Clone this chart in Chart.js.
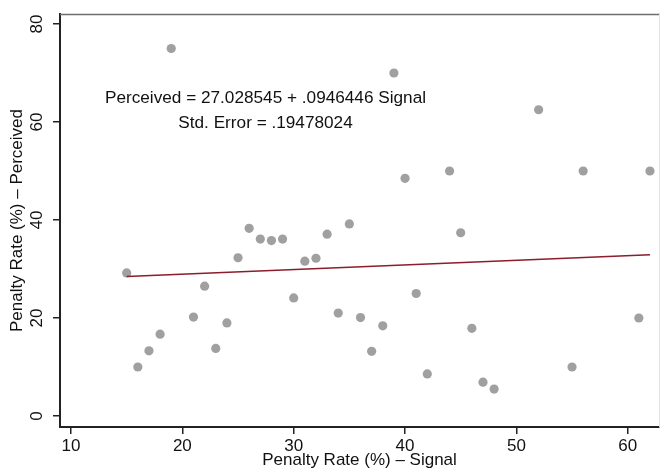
<!DOCTYPE html>
<html lang="en">
<head>
<meta charset="UTF-8">
<title>Penalty rate scatter</title>
<script src="https://cdn.jsdelivr.net/npm/chart.js@4.4.1/dist/chart.umd.min.js"></script>
<style>
  body { margin: 0; background: #fff; }
  canvas { display: block; }
</style>
</head>
<body>
<canvas id="chart" width="660" height="472"></canvas>
<script>
// penalty rate (%) - signal vs perceived
var signal = [15, 16, 17, 18, 19, 21, 22, 23, 24, 25, 26, 27, 28, 29, 30, 31, 32, 33, 34,
              35, 36, 37, 38, 39, 40, 41, 42, 44, 45, 46, 47, 48, 52, 55, 56, 61, 62];
var perceived = [29.2, 10, 13.3, 16.7, 75, 20.2, 26.5, 13.8, 19, 32.3, 38.3, 36.1, 35.8, 36.1, 24.1, 31.6, 32.2, 37.1, 21,
                 39.2, 20.1, 13.2, 18.4, 70, 48.5, 25, 8.6, 50, 37.4, 17.9, 6.9, 5.5, 62.5, 10, 50, 20, 50];

// fitted line end points
var fitX = [15, 62];
var fitY = [28.45, 32.9];

var xTicks = [10, 20, 30, 40, 50, 60];
var yTicks = [0, 20, 40, 60, 80];

var noteLines = ['Perceived = 27.028545 + .0946446 Signal', 'Std. Error = .19478024'];

var FONT = 'Liberation Sans, Arial, Helvetica, sans-serif';

var points = signal.map(function (s, i) { return {x: s, y: perceived[i]}; });
var fitPoints = fitX.map(function (s, i) { return {x: s, y: fitY[i]}; });

var frame = {
    id: 'frame',
    afterDraw: function (chart) {
        var ctx = chart.ctx, a = chart.chartArea;
        ctx.save();
        // top and right edges of the plot region
        ctx.strokeStyle = '#6e6e6e';
        ctx.lineWidth = 1.3;
        ctx.beginPath();
        ctx.moveTo(a.left, a.top + 0.5);
        ctx.lineTo(660, a.top + 0.5);
        ctx.stroke();
        ctx.strokeStyle = '#e2e2e2';
        ctx.lineWidth = 1;
        ctx.beginPath();
        ctx.moveTo(a.right + 0.5, a.top);
        ctx.lineTo(a.right + 0.5, a.bottom);
        ctx.stroke();

        // regression note
        ctx.fillStyle = '#111';
        ctx.font = '17.2px ' + FONT;
        ctx.textAlign = 'center';
        ctx.textBaseline = 'middle';
        ctx.fillText(noteLines[0], 265.5, 98);
        ctx.fillText(noteLines[1], 265.5, 123.5);
        ctx.restore();
    }
};

new Chart(document.getElementById('chart'), {
    type: 'scatter',
    data: {
        datasets: [{
            data: points,
            backgroundColor: '#a0a0a0',
            borderWidth: 0,
            pointRadius: 4.6,
            order: 2
        }, {
            data: fitPoints,
            showLine: true,
            borderColor: '#8b1d2c',
            borderWidth: 1.5,
            pointRadius: 0,
            order: 1
        }]
    },
    options: {
        responsive: false,
        animation: false,
        layout: { autoPadding: false, padding: { top: 14, right: 1, left: 0, bottom: 0 } },
        plugins: { legend: { display: false }, tooltip: { enabled: false } },
        scales: {
            x: {
                type: 'linear',
                min: 9.01,
                max: 62.81,
                afterBuildTicks: function (s) { s.ticks = xTicks.map(function (v) { return {value: v}; }); },
                afterFit: function (s) { s.height = 45; s.paddingLeft = 0; s.paddingRight = 0; },
                border: { color: '#222', width: 2 },
                grid: { drawOnChartArea: false, drawTicks: true, tickLength: 7, tickColor: '#222', lineWidth: 1.5 },
                ticks: { color: '#111', padding: 2, font: { family: FONT, size: 17 }, maxRotation: 0 },
                title: {
                    display: true,
                    text: 'Penalty Rate (%) – Signal',
                    color: '#111',
                    font: { family: FONT, size: 17 },
                    padding: { top: 0, bottom: 1 }
                }
            },
            y: {
                type: 'linear',
                min: -2.24,
                max: 82.04,
                afterBuildTicks: function (s) { s.ticks = yTicks.map(function (v) { return {value: v}; }); },
                afterFit: function (s) { s.width = 60; s.paddingTop = 0; s.paddingBottom = 0; },
                border: { color: '#222', width: 2 },
                grid: { drawOnChartArea: false, drawTicks: true, tickLength: 7, tickColor: '#222', lineWidth: 1.5 },
                ticks: {
                    color: '#111',
                    padding: 6,
                    minRotation: 90,
                    maxRotation: 90,
                    crossAlign: 'center',
                    font: { family: FONT, size: 17 }
                },
                title: {
                    display: true,
                    text: 'Penalty Rate (%) – Perceived',
                    color: '#111',
                    font: { family: FONT, size: 17 },
                    padding: { top: 7, bottom: 0 }
                }
            }
        }
    },
    plugins: [frame]
});
</script>
</body>
</html>
